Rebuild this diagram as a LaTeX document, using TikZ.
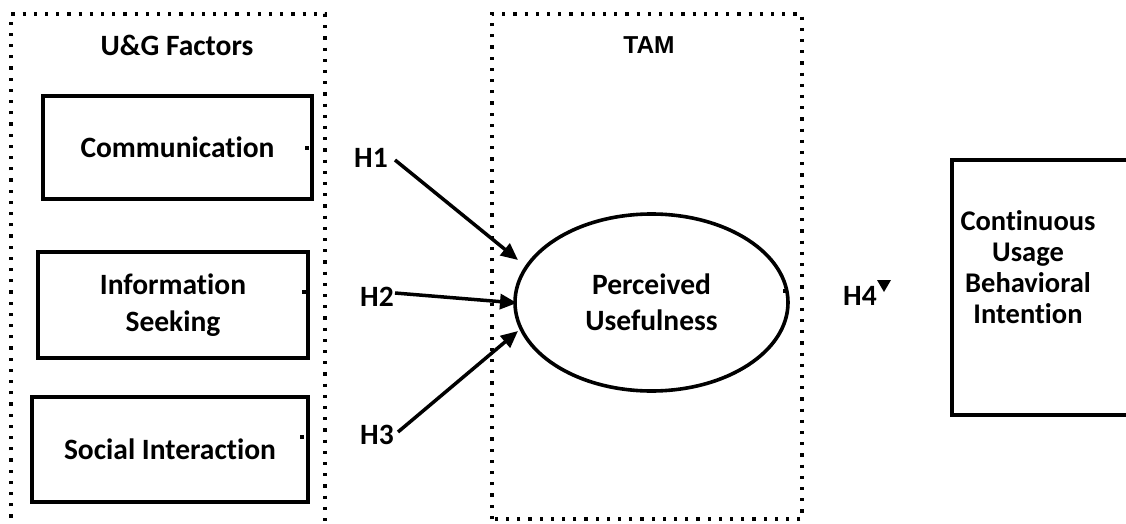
\documentclass[tikz,border=0pt]{standalone}
\usepackage{fontspec}
\setmainfont{Carlito}[Ligatures=NoCommon]
\newfontfamily\arialf{Liberation Sans}
\usetikzlibrary{arrows.meta,shapes.geometric}
\begin{document}
\begin{tikzpicture}[x=1pt,y=-1pt,
  box/.style={draw,line width=3.6pt,inner sep=0pt,align=center,font=\bfseries\fontsize{29.5}{37}\selectfont},
  dotbox/.style={line width=3.2pt,dash pattern=on 3.2pt off 8pt},
  arr/.style={line width=3.5pt,-{Triangle[length=17pt,width=15pt]}},
  lbl/.style={inner sep=0pt,font=\bfseries\fontsize{29.5}{34}\selectfont},
  tick/.style={fill=black,minimum size=3.5pt,inner sep=0pt}
]
\useasboundingbox (0,0) rectangle (1126,524);
\clip (0,0) rectangle (1126,524);

% dotted group frames
\draw[dotbox] (11,540) -- (11,14) -- (325,14) -- (325,540);
\draw[dotbox] (492,519) -- (492,14) -- (802,14) -- (802,519) -- cycle;

% titles
\node[lbl] (ug) at (177,45) {U\&G Factors};
\node[inner sep=0pt,font=\arialf\bfseries\fontsize{24.5}{28}\selectfont] (tam) at (649,45) {TAM};

% U&G boxes
\node[box,minimum width=269pt,minimum height=103pt] (comm) at (177.5,147.5) {Communication};
\node[box,minimum width=270pt,minimum height=106pt] (info) at (173,305) {Information\\Seeking};
\node[box,minimum width=276pt,minimum height=105pt] (soc) at (170,449.5) {Social Interaction};

% ellipse
\node[draw,ellipse,line width=3.6pt,minimum width=273pt,minimum height=177pt,inner sep=0pt,
  align=center,font=\bfseries\fontsize{29.5}{36}\selectfont] (pu) at (651.5,302.5) {Perceived\\Usefulness};

% right box
\node[draw,line width=3.6pt,minimum width=200pt,minimum height=255pt,anchor=north west] (cub) at (950,158) {};
\node[align=center,inner sep=0pt,font=\bfseries\fontsize{28.5}{31}\selectfont] (cubt) at (1028,267)
  {Continuous\\Usage\\Behavioral\\Intention};

% small ticks
\node[tick] (d1) at (307,148) {};
\node[tick] (d2) at (304,292) {};
\node[tick] (d3) at (302,437) {};
\node[tick] (d4) at (785,291) {};

% hypothesis labels
\node[lbl] (h1) at (371,158) {H1};
\node[lbl] (h2) at (377,297) {H2};
\node[lbl] (h3) at (377,435) {H3};
\node[lbl] (h4) at (860,296) {H4};
\fill (877,280) -- (891,280) -- (884,292) -- cycle;

% arrows
\coordinate (s1) at (395,160); \coordinate (t1) at (518,260);
\coordinate (s2) at (395,293); \coordinate (t2) at (517,303);
\coordinate (s3) at (398,432); \coordinate (t3) at (518,331);
\draw[arr] (s1) -- (t1);
\draw[arr] (s2) -- (t2);
\draw[arr] (s3) -- (t3);
\end{tikzpicture}
\end{document}
